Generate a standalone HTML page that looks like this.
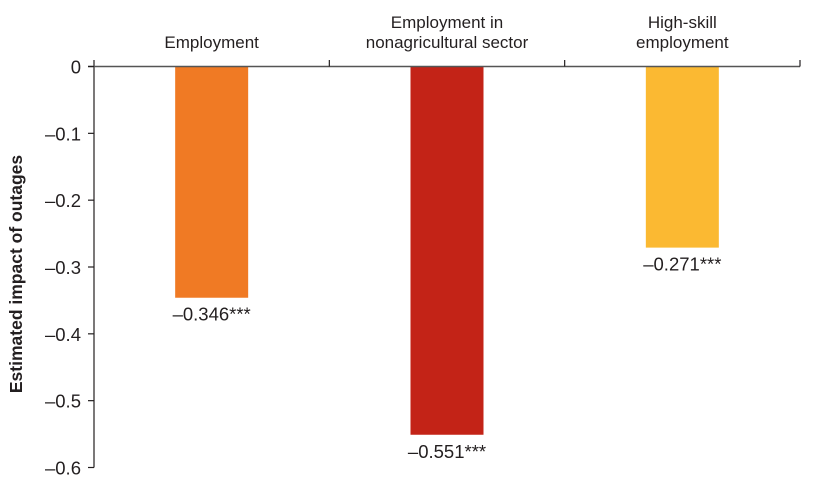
<!DOCTYPE html>
<html><head><meta charset="utf-8"><style>
html,body{margin:0;padding:0;background:#fff;}
svg{display:block;font-family:"Liberation Sans",Arial,sans-serif;}
</style></head><body>
<svg id="chart" width="816" height="488" viewBox="0 0 816 488"></svg>
<script>
const categories = [["Employment"], ["Employment in", "nonagricultural sector"], ["High-skill", "employment"]];
const values = [-0.346, -0.551, -0.271];
const valueLabels = ["\u20130.346***", "\u20130.551***", "\u20130.271***"];
const colors = ["#F07A24", "#C32317", "#FBB932"];
const yTicks = [0, -0.1, -0.2, -0.3, -0.4, -0.5, -0.6];
const yTickLabels = ["0", "\u20130.1", "\u20130.2", "\u20130.3", "\u20130.4", "\u20130.5", "\u20130.6"];

const NS = "http://www.w3.org/2000/svg";
const svg = document.getElementById("chart");
const x0 = 94, x1 = 800, yTop = 66.5, yBot = 467.5;
const y = v => yTop + (0 - v) / 0.6 * (yBot - yTop);
const bandW = (x1 - x0) / categories.length;
const xc = i => x0 + bandW * (i + 0.5);
const barW = 73;
function mk(tag, attrs, text) {
  const e = document.createElementNS(NS, tag);
  for (const k in attrs) e.setAttribute(k, attrs[k]);
  if (text !== undefined) e.textContent = text;
  svg.appendChild(e);
  return e;
}
values.forEach((v, i) => {
  const r = mk("rect", {x: xc(i) - barW / 2, y: y(0), width: barW, height: y(v) - y(0), fill: colors[i]});
  
  
  const t = mk("text", {x: xc(i), y: y(v) + 23, "text-anchor": "middle", "font-size": 18.5, fill: "#231f20"}, valueLabels[i]);
  
  
  const lines = categories[i];
  lines.forEach((ln, j) => {
    const ct = mk("text", {x: xc(i), y: 48 - (lines.length - 1 - j) * 20, "text-anchor": "middle", "font-size": 17, fill: "#231f20"}, ln);
    
    
  });
});
const ya = mk("line", {x1: x0, y1: 60, x2: x0, y2: yBot, stroke: "#231f20", "stroke-width": 1.2});


const xa = mk("line", {x1: x0 - 6, y1: yTop, x2: x1, y2: yTop, stroke: "#555", "stroke-width": 1.5});


for (let i = 1; i <= categories.length; i++) {
  const tk = mk("line", {x1: x0 + bandW * i, y1: 60, x2: x0 + bandW * i, y2: yTop, stroke: "#231f20", "stroke-width": 1.2});
  
  
}
yTicks.forEach((v, i) => {
  const tk = mk("line", {x1: x0 - 6, y1: y(v), x2: x0, y2: y(v), stroke: "#231f20", "stroke-width": 1.2});
  
  
  const tl = mk("text", {x: x0 - 13, y: y(v) + 7, "text-anchor": "end", "font-size": 18.5, fill: "#231f20"}, yTickLabels[i]);
  
  
});
const yt = mk("text", {x: 22, y: 274, "text-anchor": "middle", "font-size": 17.5, "font-weight": "bold", fill: "#231f20", transform: "rotate(-90 22 274)"}, "Estimated impact of outages");


</script>
</body></html>
